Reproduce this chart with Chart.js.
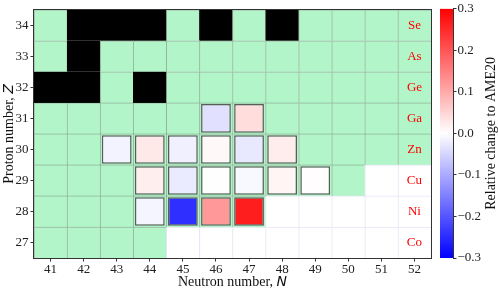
<!DOCTYPE html>
<html>
<head>
<meta charset="utf-8">
<script src="https://cdn.jsdelivr.net/npm/chart.js@4/dist/chart.umd.min.js"></script>
<style>
  body { margin: 0; background: #fff; }
  #wrap { position: relative; width: 498px; height: 290px; }
  #main { position: absolute; left: 0; top: 0; }
  #cbar { position: absolute; left: 438px; top: 0; }
</style>
</head>
<body>
<div id="wrap">
  <canvas id="main" width="438" height="290"></canvas>
  <canvas id="cbar" width="60" height="290"></canvas>
</div>
<script>
// Axes
const neutrons = [41, 42, 43, 44, 45, 46, 47, 48, 49, 50, 51, 52];
const protons = [27, 28, 29, 30, 31, 32, 33, 34];
const elements = ['Co', 'Ni', 'Cu', 'Zn', 'Ga', 'Ge', 'As', 'Se'];

// Cell state per row (Z = 27..34), one letter per N = 41..52
// g = known mass (green), k = black, w = empty
const cellRows = [
  'ggggwwwwwwww',
  'gggggggwwwww',
  'ggggggggggww',
  'gggggggggggg',
  'gggggggggggg',
  'kkgkgggggggg',
  'gkgggggggggg',
  'gkkkgkgkgggg'
];

// Relative change to AME20, N = 41..52
const changeZ28 = [null, null, null, -0.012, -0.245, 0.12, 0.265, null, null, null, null, null];
const changeZ29 = [null, null, null, 0.02, -0.024, 0.001, -0.008, 0.012, 0.002, null, null, null];
const changeZ30 = [null, null, -0.014, 0.027, -0.018, 0.008, -0.027, 0.022, null, null, null, null];
const changeZ31 = [null, null, null, null, null, -0.035, 0.04, null, null, null, null, null];
const changeRows = { 28: changeZ28, 29: changeZ29, 30: changeZ30, 31: changeZ31 };

// Colorbar
const cbMin = -0.3, cbMax = 0.3;
const cbTicks = [-0.3, -0.2, -0.1, 0.0, 0.1, 0.2, 0.3];

const serif = '"Liberation Serif", "Times New Roman", serif';
const stateFill = { g: '#b2f5c8', k: '#000000', w: '#ffffff' };
const stateEdge = { g: 'rgba(60,110,75,0.5)', k: '#000000', w: '#e4e4f6' };

// matplotlib "bwr" colormap
function bwr(v) {
  let t = (v - cbMin) / (cbMax - cbMin);
  t = Math.max(0, Math.min(1, t));
  let r, g, b;
  if (t < 0.5) {
    r = g = Math.round(t * 2 * 255); b = 255;
  } else {
    r = 255; g = b = Math.round((1 - t) * 2 * 255);
  }
  return `rgb(${r},${g},${b})`;
}

// Background cells, one dataset per row (drawn first)
const datasets = [];
protons.forEach((z, i) => {
  const states = cellRows[i].split('');
  datasets.push({
    order: 2,
    data: neutrons.map(() => [z - 0.5, z + 0.5]),
    backgroundColor: states.map(s => stateFill[s]),
    borderColor: states.map(s => stateEdge[s]),
    borderWidth: { top: 1, left: 1, right: 0, bottom: 0 },
    borderSkipped: false,
    barPercentage: 1,
    categoryPercentage: 1
  });
});

// Measured cells on top
protons.forEach(z => {
  const vals = changeRows[z];
  if (!vals) return;
  datasets.push({
    order: 1,
    data: vals.map(v => v === null ? null : [z - 0.46, z + 0.46]),
    backgroundColor: vals.map(v => v === null ? 'transparent' : bwr(v)),
    borderColor: '#5c5c5c',
    borderWidth: 1.5,
    borderSkipped: false,
    barPercentage: 0.9,
    categoryPercentage: 1
  });
});

// Element names, frame and axis titles
const decorations = {
  id: 'decorations',
  afterDatasetsDraw(chart) {
    const { ctx, scales: { x, y } } = chart;
    ctx.save();
    ctx.fillStyle = '#ff0000';
    ctx.font = '13px ' + serif;
    ctx.textAlign = 'center';
    ctx.textBaseline = 'middle';
    protons.forEach((z, i) => {
      ctx.fillText(elements[i], x.getPixelForValue(neutrons.length - 1), y.getPixelForValue(z));
    });
    ctx.restore();
  },
  afterDraw(chart) {
    const { ctx, chartArea: a } = chart;
    ctx.save();
    ctx.strokeStyle = '#333';
    ctx.lineWidth = 1;
    ctx.strokeRect(Math.round(a.left) - 0.5, Math.round(a.top) - 0.5,
      Math.round(a.right - a.left) + 1, Math.round(a.bottom - a.top) + 1);

    ctx.fillStyle = '#111';
    ctx.textBaseline = 'alphabetic';
    // x title
    const fs = '14px ' + serif, fi = 'italic 14px "DejaVu Sans"';
    ctx.font = fs;
    const t1 = 'Neutron number, ';
    const w1 = ctx.measureText(t1).width;
    ctx.font = fi;
    const w2 = ctx.measureText('N').width;
    let sx = (a.left + a.right) / 2 - (w1 + w2) / 2;
    ctx.font = fs; ctx.fillText(t1, sx, 286);
    ctx.font = fi; ctx.fillText('N', sx + w1, 286);
    // y title
    const t3 = 'Proton number, ';
    ctx.font = fs;
    const w3 = ctx.measureText(t3).width;
    ctx.font = fi;
    const w4 = ctx.measureText('Z').width;
    ctx.translate(13, (a.top + a.bottom) / 2);
    ctx.rotate(-Math.PI / 2);
    sx = -(w3 + w4) / 2;
    ctx.font = fs; ctx.fillText(t3, sx, 0);
    ctx.font = fi; ctx.fillText('Z', sx + w3, 0);
    ctx.restore();
  }
};

new Chart(document.getElementById('main').getContext('2d'), {
  type: 'bar',
  data: { labels: neutrons.map(String), datasets: datasets },
  options: {
    responsive: false,
    animation: false,
    layout: { padding: { left: 0, top: 6, right: 7, bottom: 0 } },
    plugins: { legend: { display: false }, tooltip: { enabled: false } },
    scales: {
      x: {
        stacked: true,
        afterFit: s => { s.height = 32; },
        grid: { offset: false, drawOnChartArea: false, drawTicks: true, tickLength: 3.5, color: '#333' },
        border: { display: false },
        ticks: { color: '#222', padding: 0, font: { family: serif, size: 13 }, maxRotation: 0 }
      },
      y: {
        min: 26.5,
        max: 34.5,
        afterBuildTicks: s => { s.ticks = protons.map(v => ({ value: v })); },
        afterFit: s => { s.width = 34; },
        grid: { drawOnChartArea: false, drawTicks: true, tickLength: 3.5, color: '#333' },
        border: { display: false },
        ticks: { color: '#222', padding: 2, font: { family: serif, size: 13 } }
      }
    }
  },
  plugins: [decorations]
});

// Colorbar chart
const cbLabel = {
  id: 'cbLabel',
  afterDraw(chart) {
    const { ctx, chartArea: a } = chart;
    ctx.save();
    ctx.fillStyle = '#111';
    ctx.font = '14px ' + serif;
    ctx.textAlign = 'center';
    ctx.textBaseline = 'alphabetic';
    ctx.translate(57, (a.top + a.bottom) / 2);
    ctx.rotate(-Math.PI / 2);
    ctx.fillText('Relative change to AME20', 0, 0);
    ctx.restore();
  }
};

new Chart(document.getElementById('cbar').getContext('2d'), {
  type: 'bar',
  data: {
    labels: [''],
    datasets: [{
      data: [[cbMin, cbMax]],
      backgroundColor: (c) => {
        const a = c.chart.chartArea;
        if (!a) return 'white';
        const g = c.chart.ctx.createLinearGradient(0, a.bottom, 0, a.top);
        g.addColorStop(0, bwr(cbMin));
        g.addColorStop(0.5, bwr(0));
        g.addColorStop(1, bwr(cbMax));
        return g;
      },
      borderWidth: 0,
      barPercentage: 1,
      categoryPercentage: 1
    }]
  },
  options: {
    responsive: false,
    animation: false,
    layout: { padding: { left: 2, top: 6, right: 0, bottom: 32 } },
    plugins: { legend: { display: false }, tooltip: { enabled: false } },
    scales: {
      x: { display: false },
      y: {
        position: 'right',
        min: cbMin,
        max: cbMax,
        afterBuildTicks: s => { s.ticks = cbTicks.map(v => ({ value: v })); },
        afterFit: s => { s.width = 45; },
        grid: { drawOnChartArea: false, drawTicks: true, tickLength: 3.5, color: '#333' },
        border: { display: true, color: '#333', width: 1 },
        ticks: {
          color: '#222',
          padding: 1,
          font: { family: serif, size: 13 },
          callback: v => (v < -1e-9 ? '\u2212' : '') + Math.abs(v).toFixed(1)
        }
      }
    }
  },
  plugins: [cbLabel]
});
</script>
</body>
</html>
